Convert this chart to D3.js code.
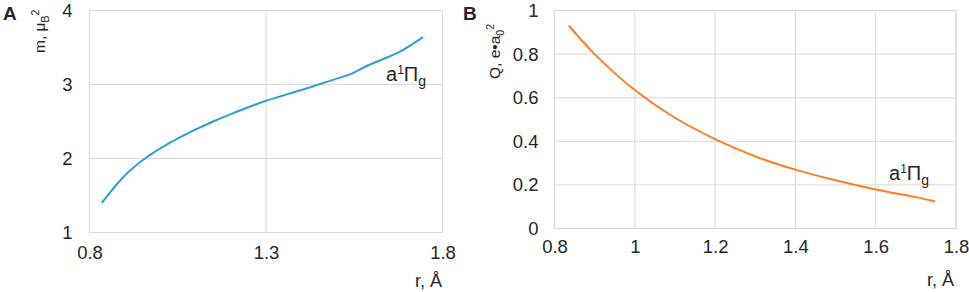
<!DOCTYPE html>
<html><head><meta charset="utf-8">
<script src="https://cdn.jsdelivr.net/npm/d3@7"></script>
<style>body{margin:0;background:#fff}text{font-family:"Liberation Sans",Arial,sans-serif;fill:#262626}</style>
</head><body>
<svg id="c" width="969" height="292"></svg>
<script>
const rA = [0.835,0.9,0.96,1.02,1.085,1.15,1.2,1.3,1.4,1.5,1.54,1.585,1.63,1.68,1.745];
const mA = [1.40,1.77,2.01,2.19,2.355,2.50,2.60,2.78,2.925,3.08,3.14,3.25,3.34,3.445,3.64];
const rB = [0.836,0.9,1.0,1.1,1.2,1.3,1.4,1.5,1.6,1.7,1.748];
const qB = [0.93,0.80,0.635,0.508,0.41,0.331,0.27,0.221,0.179,0.144,0.124];
const xTicksA = [0.8,1.3,1.8];
const yTicksA = [1,2,3,4];
const xTicksB = [0.8,1,1.2,1.4,1.6,1.8];
const yTicksB = [0,0.2,0.4,0.6,0.8,1];

const svg = d3.select("#c");
function panel(o){
  const g = svg.append("g");
  const x = d3.scaleLinear().domain(o.xd).range([o.l,o.r]);
  const y = d3.scaleLinear().domain(o.yd).range([o.b,o.t]);
  g.selectAll(".gx").data(o.xt).join("line").attr("x1",d=>x(d)).attr("x2",d=>x(d))
    .attr("y1",o.t).attr("y2",o.b).attr("stroke","#d9d9d9").attr("stroke-width",1);
  g.selectAll(".gy").data(o.yt).join("line").attr("y1",d=>y(d)).attr("y2",d=>y(d))
    .attr("x1",o.l).attr("x2",o.r).attr("stroke","#d9d9d9").attr("stroke-width",1);
  g.append("rect").attr("x",o.l).attr("y",o.t).attr("width",o.r-o.l).attr("height",o.b-o.t)
    .attr("fill","none").attr("stroke","#d9d9d9");
  const xa = g.append("g").attr("transform",`translate(0,${o.b})`)
    .call(d3.axisBottom(x).tickValues(o.xt).tickSize(0).tickPadding(o.xpad).tickFormat(d=>String(d)));
  const ya = g.append("g").attr("transform",`translate(${o.l},0)`)
    .call(d3.axisLeft(y).tickValues(o.yt).tickSize(0).tickPadding(o.ypad).tickFormat(d=>String(d)));
  [xa,ya].forEach(a=>{a.select(".domain").remove();a.selectAll("text").attr("font-size",18.5).attr("fill","#262626").attr("font-family",'"Liberation Sans",Arial,sans-serif');});
  const line = d3.line().x(d=>x(d[0])).y(d=>y(d[1])).curve(d3.curveCatmullRom);
  g.append("path").datum(o.xs.map((v,i)=>[v,o.ys[i]])).attr("d",line)
    .attr("fill","none").attr("stroke",o.color).attr("stroke-width",2);
  return {g,x,y};
}
const A = panel({l:89.5,r:442.5,t:10.5,b:232.5,xd:[0.8,1.8],yd:[1,4],xt:xTicksA,yt:yTicksA,
  xs:rA,ys:mA,color:"#2b9fdc",xpad:13,ypad:17});
const B = panel({l:554.5,r:956,t:10.5,b:228.5,xd:[0.8,1.8],yd:[0,1],xt:xTicksB,yt:yTicksB,
  xs:rB,ys:qB,color:"#ff7f27",xpad:11,ypad:16});

// panel letters
svg.append("text").attr("x",3).attr("y",20).attr("font-size",19).attr("font-weight","bold").attr("fill","#000").text("A");
svg.append("text").attr("x",463).attr("y",20).attr("font-size",19).attr("font-weight","bold").attr("fill","#000").text("B");

// x axis titles
svg.append("text").attr("x",442).attr("y",287).attr("text-anchor","end").attr("font-size",18).text("r, Å");
svg.append("text").attr("x",954).attr("y",286).attr("text-anchor","end").attr("font-size",18).text("r, Å");

// y axis titles
const ta = svg.append("text").attr("transform","translate(45,53) rotate(-90)").attr("font-size",15.5);
ta.append("tspan").text("m, μ");
ta.append("tspan").attr("font-size",10.5).attr("dy",4).text("B");
ta.append("tspan").attr("font-size",10.5).attr("dy",-10).text("2");
const tb = svg.append("text").attr("transform","translate(500,79) rotate(-90)").attr("font-size",15.5);
tb.append("tspan").text("Q, e•a");
tb.append("tspan").attr("font-size",10.5).attr("dy",4).text("0");
tb.append("tspan").attr("font-size",10.5).attr("dy",-10).text("2");

// state labels
function stateLabel(xp,yp){
  const t = svg.append("text").attr("x",xp).attr("y",yp).attr("font-size",20);
  t.append("tspan").text("a");
  t.append("tspan").attr("font-size",12).attr("dy",-7).text("1");
  t.append("tspan").attr("dy",7).text("Π");
  t.append("tspan").attr("font-size",14).attr("dy",5).text("g");
}
stateLabel(386,81);
stateLabel(889,180);
</script>
</body></html>
